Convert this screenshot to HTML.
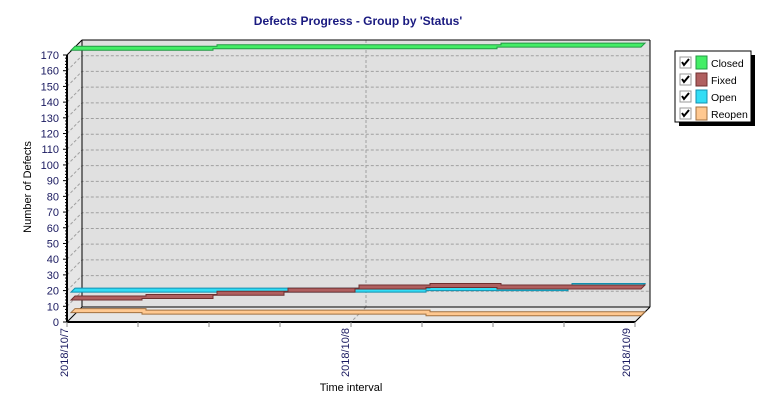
<!DOCTYPE html>
<html><head><meta charset="utf-8"><style>
body{margin:0;background:#fff;}
svg{display:block;font-family:"Liberation Sans",sans-serif;}
</style></head><body>
<svg id="chart" width="783" height="405">
<text x="358" y="25" text-anchor="middle" font-size="12" font-weight="bold" fill="#1a1a80">Defects Progress - Group by 'Status'</text>
<g id="plot"></g>
<text transform="translate(31,187) rotate(-90)" text-anchor="middle" font-size="11" fill="#000">Number of Defects</text>
<text x="351" y="391" text-anchor="middle" font-size="11" fill="#000">Time interval</text>
<g>
<rect x="679" y="55" width="76" height="71" fill="#000"/>
<rect x="675" y="51" width="76" height="71" fill="#fff" stroke="#000"/>
<g id="legend-items"></g>
</g>
</svg>
<script>
const categories=["2018/10/7","2018/10/8","2018/10/9"];
const yTicks=[0,10,20,30,40,50,60,70,80,90,100,110,120,130,140,150,160,170];
const seriesNames=["Closed","Fixed","Open","Reopen"];
const closedVals=[173,173,174,174,174,174,175,175,176];
const fixedVals=[14,15,17,19,21,22,21,21,20];
const openVals=[19,19,19,19,19,20,20,22,23];
const reopenVals=[6,5,5,5,5,4,4,4,4];
const colors=["#44ee66","#b06060","#33ddf5","#ffc890"];
const edges=["#229944","#703030","#1090b0","#a07040"];

const ns="http://www.w3.org/2000/svg";
const plot=document.getElementById('plot');
const X0=67,X1=635,Y0=322,YT=55,DX=15,DY=15,YMAX=170;
function ys(v){return Y0-(v/YMAX)*(Y0-YT);}
function xs(i,n){return X0+(X1-X0)*i/(n-1);}
function mk(tag,attrs,parent){const e=document.createElementNS(ns,tag);for(const k in attrs)e.setAttribute(k,attrs[k]);(parent||plot).appendChild(e);return e;}

let w=mk('polygon',{points:`${X0+DX},${YT-DY} ${X1+DX},${YT-DY} ${X1+DX},${Y0-DY} ${X0+DX},${Y0-DY}`,fill:'#e0e0e0',stroke:'none'});

w=mk('polygon',{points:`${X0},${YT} ${X0+DX},${YT-DY} ${X0+DX},${Y0-DY} ${X0},${Y0}`,fill:'#e6e6e6'});

w=mk('polygon',{points:`${X0},${Y0} ${X0+DX},${Y0-DY} ${X1+DX},${Y0-DY} ${X1},${Y0}`,fill:'#e6e6e6'});

yTicks.forEach(t=>{
  const y=ys(t);
  if(t>0){
  const g=mk('polyline',{points:`${X0},${y} ${X0+DX},${y-DY} ${X1+DX},${y-DY}`,fill:'none',stroke:'#a0a0a0','stroke-dasharray':'3,2'});
  }
  const tk=mk('line',{x1:X0-4,y1:y,x2:X0,y2:y,stroke:'#000'});
  
  const lb=mk('text',{x:X0-8,y:y+4,'text-anchor':'end','font-size':'11',fill:'#1a1a60'});
  lb.textContent=t;
  
  if(t<YMAX){for(let m=1;m<5;m++){mk('line',{x1:X0-2,y1:y-m*(ys(0)-ys(2)),x2:X0,y2:y-m*(ys(0)-ys(2)),stroke:'#000'});}}
});
const mid=X0+DX+(X1-X0)/2;
let vg=mk('line',{x1:mid,y1:YT-DY,x2:mid,y2:Y0-DY,stroke:'#a0a0a0','stroke-dasharray':'3,2'});

mk('line',{x1:mid,y1:Y0-DY,x2:mid-DX,y2:Y0,stroke:'#a0a0a0','stroke-dasharray':'3,2'});
mk('line',{x1:X1+DX,y1:Y0-DY,x2:X1,y2:Y0,stroke:'#a0a0a0','stroke-dasharray':'3,2'});
mk('line',{x1:X0+DX,y1:YT-DY,x2:X0+DX,y2:Y0-DY,stroke:'#000'});
mk('line',{x1:X0+DX,y1:YT-DY,x2:X1+DX,y2:YT-DY,stroke:'#000'});
mk('line',{x1:X0,y1:YT,x2:X0+DX,y2:YT-DY,stroke:'#000'});
mk('line',{x1:X0+DX,y1:Y0-DY,x2:X1+DX,y2:Y0-DY,stroke:'#000'});
mk('line',{x1:X0,y1:Y0,x2:X0+DX,y2:Y0-DY,stroke:'#000'});
mk('line',{x1:X1+DX,y1:YT-DY,x2:X1+DX,y2:Y0-DY,stroke:'#000'});
mk('line',{x1:X1+DX,y1:Y0-DY,x2:X1,y2:Y0,stroke:'#000'});
let ya=mk('line',{x1:X0,y1:YT,x2:X0,y2:Y0,stroke:'#000','stroke-width':2});

let xa=mk('line',{x1:X0,y1:Y0,x2:X1,y2:Y0,stroke:'#000','stroke-width':2});

for(let i=0;i<=8;i++){const x=xs(i,9);mk('line',{x1:x,y1:Y0,x2:x,y2:Y0+5,stroke:'#888'});}
categories.forEach((c,i)=>{
  const x=xs(i,categories.length);
  const t=mk('text',{transform:`translate(${x-i*3+1},${Y0+6}) rotate(-90)`,'text-anchor':'end','font-size':'11',fill:'#1a1a60'});
  t.textContent=c;
  
});
const order=[0,2,1,3];
order.forEach(si=>{
  const vals=si===0?closedVals:si===1?fixedVals:si===2?openVals:reopenVals;
  const n=vals.length,d=4,t=4;
  const bottom=[];
  for(let i=0;i<n-1;i++){
    const x1=xs(i,n)+d, x2=xs(i+1,n)+d+(i===n-2?2:0), y=ys(vals[i]);
    bottom.push([x1,y]);bottom.push([x2,y]);
  }
  const top=bottom.map(p=>[p[0]+t,p[1]-t]).reverse();
  const pts=bottom.concat(top).map(p=>p.join(',')).join(' ');
  const p=mk('polygon',{points:pts,fill:colors[si],stroke:edges[si],'stroke-width':1});
  
  
});
const lg=document.getElementById('legend-items');
seriesNames.forEach((s,i)=>{
  const y=56+i*17;
  const cb=mk('rect',{x:680,y:y+1,width:11,height:11,fill:'#fff',stroke:'#999'},lg);
  
  mk('path',{d:`M682,${y+6} l2,3 l5,-6`,fill:'none',stroke:'#000','stroke-width':2},lg);
  const sw=mk('rect',{x:696,y:y,width:11,height:13,fill:colors[i],stroke:edges[i]},lg);
  
  const tx=mk('text',{x:711,y:y+11,'font-size':'10.5',fill:'#000'},lg);
  tx.textContent=s;
  
});
</script>
</body></html>
